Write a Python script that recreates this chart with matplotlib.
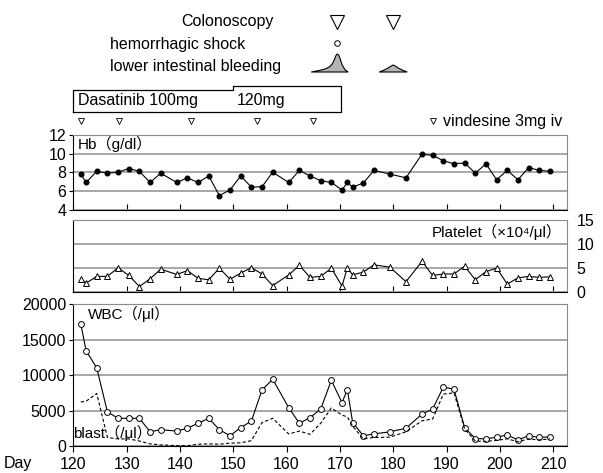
import matplotlib
matplotlib.use("Agg")
import matplotlib.pyplot as plt

plt.rcParams['font.family'] = ['Liberation Sans', 'Noto Sans CJK JP', 'DejaVu Sans']

# ---- data ----
days = [121.4, 122.4, 124.4, 126.4, 128.4, 130.4, 132.4, 134.4, 136.4, 139.4,
        141.4, 143.4, 145.4, 147.4, 149.4, 151.4, 153.4, 155.4, 157.4, 160.4,
        162.4, 164.4, 166.4, 168.4, 170.4, 171.4, 172.4, 174.4, 176.4, 179.4,
        182.4, 185.4, 187.4, 189.4, 191.4, 193.4, 195.4, 197.4, 199.4, 201.4,
        203.4, 205.4, 207.4, 209.4]

hb = [7.8, 6.9, 8.1, 7.9, 8.0, 8.4, 8.1, 6.9, 7.9, 6.9,
      7.4, 6.9, 7.6, 5.5, 6.1, 7.6, 6.4, 6.45, 8.0, 6.9,
      8.2, 7.6, 7.1, 6.9, 6.1, 6.9, 6.4, 6.85, 8.2, 7.8,
      7.4, 9.95, 9.8, 9.25, 8.9, 9.0, 7.9, 8.9, 7.2, 8.2,
      7.2, 8.5, 8.2, 8.1]

platelet = [2.8, 1.9, 3.3, 3.3, 5.1, 3.5, 1.2, 2.8, 4.8, 3.7,
            4.5, 2.9, 2.6, 5.0, 2.7, 4.0, 5.1, 3.8, 1.4, 3.6,
            5.6, 3.1, 3.3, 5.0, 1.3, 5.1, 3.6, 4.2, 5.7, 5.2,
            2.2, 6.4, 3.5, 3.8, 3.8, 5.4, 2.6, 4.3, 5.0, 1.7,
            3.0, 3.3, 3.1, 3.2]

wbc = [17200, 13400, 11000, 4800, 3900, 3900, 3900, 2000, 2300, 2100,
       2500, 3200, 3900, 2300, 1450, 2600, 3500, 7900, 9400, 5400,
       3200, 4000, 5200, 9250, 6100, 7950, 3300, 1450, 1700, 2000,
       2500, 4500, 5200, 8300, 8000, 2600, 1050, 1000, 1250, 1550,
       850, 1450, 1200, 1300]

blast = [6200, 6300, 7400, 1200, 1000, 1000, 700, 300, 150, 50,
         50, 250, 300, 250, 400, 450, 750, 3300, 3900, 1700,
         2100, 1650, 3200, 5350, 4350, 4100, 2800, 1000, 1200, 1250,
         2000, 3550, 3800, 7300, 7500, 2400, 700, 650, 800, 1000,
         600, 1000, 850, 1000]

colonoscopy_days = [169.5, 180.0]
shock_days = [169.5]
vindesine_days = [121.5, 128.5, 142.0, 154.5, 165.0]
dasatinib_start = 120
dasatinib_switch = 150
dasatinib_end = 170.3

x_ticks = list(range(120, 211, 10))
hb_ticks = [4, 6, 8, 10, 12]
plt_ticks = [0, 5, 10, 15]
wbc_ticks = [0, 5000, 10000, 15000, 20000]

# ---- layout (pixel based) ----
W, H = 603, 473
XLIM = (120, 212.6)
GRID = '#a0a0a0'
FRAME = '#8a8a8a'
TICK_FS = 11.5

fig = plt.figure(figsize=(W / 100, H / 100), dpi=100)


def box(left, top, right, bottom):
    return fig.add_axes([left / W, 1 - bottom / H, (right - left) / W, (bottom - top) / H])


def px(x, y):
    return x / W, 1 - y / H


def style(ax):
    ax.set_xlim(*XLIM)
    ax.set_xticks(x_ticks)
    ax.grid(axis='y', color=GRID, lw=1.3)
    ax.set_axisbelow(True)
    for s in ('top', 'right'):
        ax.spines[s].set_color(FRAME)
    for s in ('left', 'bottom'):
        ax.spines[s].set_color('black')
    ax.tick_params(labelsize=TICK_FS, width=0.8)


L, R = 73.3, 567

# Hb
ax1 = box(L, 135, R, 209.5)
style(ax1)
ax1.plot(days, hb, color='black', lw=0.8, marker='o', ms=3.3)
ax1.set_ylim(4, 12)
ax1.set_yticks(hb_ticks)
ax1.tick_params(axis='x', direction='in', length=4, labelbottom=False)
ax1.tick_params(axis='y', direction='out', length=3, pad=2)
ax1.text(0.01, 0.99, 'Hb（g/dl）', transform=ax1.transAxes, fontsize=11,
         ha='left', va='top')

# Platelet
ax2 = box(L, 220, R, 292.3)
style(ax2)
ax2.plot(days, platelet, color='black', lw=0.8, marker='^', ms=4.8,
         mfc='white', mec='black', mew=0.7)
ax2.set_ylim(0, 15)
ax2.set_yticks(plt_ticks)
ax2.yaxis.tick_right()
ax2.tick_params(axis='x', direction='in', length=4, labelbottom=False)
ax2.tick_params(axis='y', direction='out', length=0, pad=7)
ax2.text(0.99, 0.84, 'Platelet（×10⁴/μl）', transform=ax2.transAxes, fontsize=11,
         ha='right', va='center')

# WBC / blast
ax3 = box(L, 304, R, 446)
style(ax3)
ax3.plot(days, wbc, color='black', lw=0.8, marker='o', ms=4.2,
         mfc='white', mec='black', mew=0.7)
ax3.plot(days, blast, color='black', lw=0.8, ls=(0, (3, 2)))
ax3.set_ylim(0, 20000)
ax3.set_yticks(wbc_ticks)
ax3.tick_params(axis='x', direction='out', length=4, pad=4)
ax3.tick_params(axis='y', direction='out', length=3, pad=2)
ax3.text(0.03, 0.93, 'WBC（/μl）', transform=ax3.transAxes, fontsize=11,
         ha='left', va='center')
ax3.text(0.0, 0.09, 'blast（/μl）', transform=ax3.transAxes, fontsize=11,
         ha='left', va='center')
fig.text(*px(4, 463), 'Day', fontsize=TICK_FS, ha='left', va='center')

# ---- annotations above the chart ----
top = box(L, 0, R, 130)
top.set_xlim(*XLIM)
top.set_ylim(130, 0)
top.axis('off')
top.patch.set_alpha(0)

fig.text(*px(274, 21), 'Colonoscopy', fontsize=11.5, ha='right', va='center')
fig.text(*px(110, 44), 'hemorrhagic shock', fontsize=11.5, ha='left', va='center')
fig.text(*px(110, 66), 'lower intestinal bleeding', fontsize=11.5, ha='left', va='center')

top.plot(colonoscopy_days, [22] * len(colonoscopy_days), 'v', ms=9.5,
         mfc='white', mec='black', mew=0.8, clip_on=False)
top.plot(shock_days, [43] * len(shock_days), 'o', ms=4,
         mfc='white', mec='black', mew=0.7, clip_on=False)

# bleeding episodes: schematic humps (offsets in px from peak, height in px)
bleed_shapes = [
    ([-26, -18, -12, -8, -5, -3, -1.5, 0, 1.5, 3, 5, 8, 11],
     [0, 1.5, 3, 5, 8, 12, 16, 18, 17, 13, 7, 2, 0]),
    ([-14, -9, -5, -2, 0, 2, 5, 9, 14],
     [0, 2, 4, 6, 7, 6, 4, 2, 0]),
]
base_y = 72
for peak, (dx, hgt) in zip(colonoscopy_days, bleed_shapes):
    xs = [peak + d / 5.333 for d in dx]
    ys = [base_y - h for h in hgt]
    top.fill(xs, ys, facecolor='#b4b4b4', edgecolor='black', lw=0.8, clip_on=False)

# Dasatinib box
top.plot([dasatinib_start, dasatinib_start, dasatinib_switch, dasatinib_switch,
          dasatinib_end, dasatinib_end, dasatinib_start],
         [112, 90, 90, 86, 86, 112, 112], color='black', lw=0.9, clip_on=False)
top.text(dasatinib_start + 0.9, 101, 'Dasatinib 100mg', fontsize=11.5, ha='left', va='center')
top.text(dasatinib_switch + 0.7, 101, '120mg', fontsize=11.5, ha='left', va='center')

# vindesine
top.plot(vindesine_days, [121.5] * len(vindesine_days), 'v', ms=4.2,
         mfc='white', mec='black', mew=0.6, clip_on=False)
top.plot([187.4], [121.5], 'v', ms=4.2, mfc='white', mec='black', mew=0.6)
top.text(189.4, 121.5, 'vindesine 3mg iv', fontsize=11.5, ha='left', va='center')

fig.savefig('out.png', dpi=100)
